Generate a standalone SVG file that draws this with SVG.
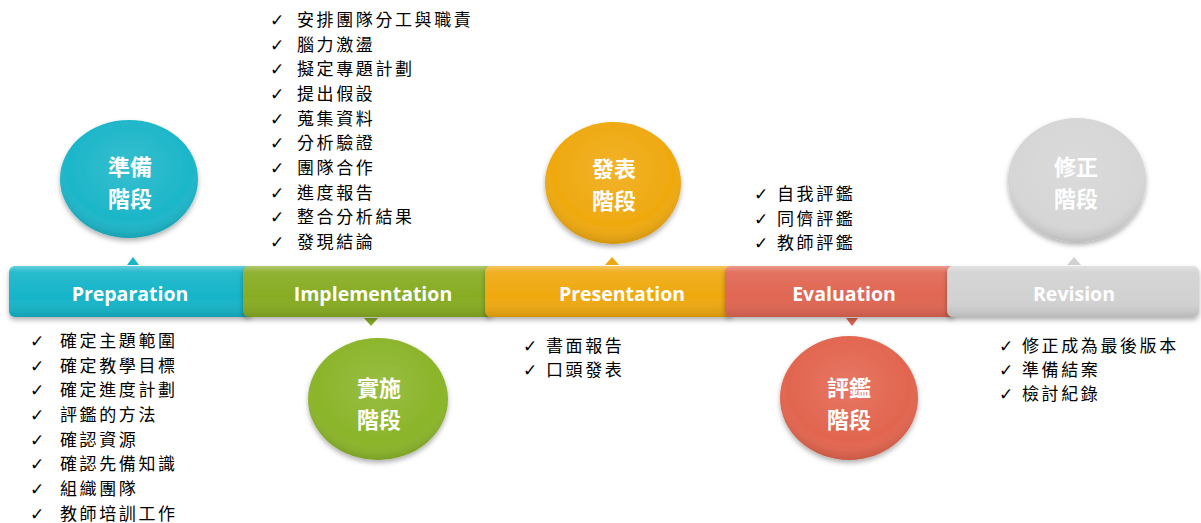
<svg xmlns="http://www.w3.org/2000/svg" width="1201" height="523" viewBox="0 0 1201 523">
<defs>
  <linearGradient id="barShade" x1="0" y1="0" x2="0" y2="1">
    <stop offset="0" stop-color="#fff" stop-opacity="0.35"/>
    <stop offset="0.12" stop-color="#fff" stop-opacity="0.08"/>
    <stop offset="0.6" stop-color="#fff" stop-opacity="0"/>
    <stop offset="1" stop-color="#000" stop-opacity="0.12"/>
  </linearGradient>
  <radialGradient id="ballShade" cx="0.5" cy="0.4" r="0.6">
    <stop offset="0" stop-color="#fff" stop-opacity="0.12"/>
    <stop offset="0.75" stop-color="#fff" stop-opacity="0"/>
    <stop offset="1" stop-color="#000" stop-opacity="0.12"/>
  </radialGradient>
  <filter id="shadow" x="-20%" y="-20%" width="140%" height="150%">
    <feDropShadow dx="0" dy="3" stdDeviation="2.5" flood-color="#000" flood-opacity="0.3"/>
  </filter>
</defs>
<style>
  .bar-label{font-family:"Open Sans","Liberation Sans",sans-serif;font-weight:bold;font-size:19.5px;fill:#fff;text-anchor:middle}
  .ball-label{font-family:"Noto Sans CJK TC","Noto Sans CJK SC",sans-serif;font-weight:bold;font-size:22px;fill:#fff;text-anchor:middle}
  .item{font-family:"Noto Sans CJK TC","Noto Sans CJK SC",sans-serif;font-size:17px;fill:#000;letter-spacing:2.6px}
  .chk{font-family:"DejaVu Sans",sans-serif;font-size:17px;font-weight:bold;fill:#000}
</style>
<rect width="1201" height="523" fill="#fff"/>

<g id="connectors">
  <polygon points="127,265 133,257 139,265" fill="#1ab5c8"/>
  <polygon points="364,318 371,326 378,318" fill="#86ab22"/>
  <polygon points="605,265 612,257 619,265" fill="#efa80f"/>
  <polygon points="846,318 852,326 858,318" fill="#de6350"/>
  <polygon points="1067,265 1074,257 1081,265" fill="#d2d2d2"/>
</g>

<g id="preparation">
  <g filter="url(#shadow)">
    <rect x="9" y="266" width="243" height="51" rx="6" fill="#16b5c9"/>
    <rect x="9" y="266" width="243" height="51" rx="6" fill="url(#barShade)"/>
  </g>
  <text class="bar-label" x="130" y="301">Preparation</text>
  <g filter="url(#shadow)">
    <ellipse cx="129" cy="179" rx="69" ry="59" fill="#1cb6c9"/>
    <ellipse cx="129" cy="179" rx="69" ry="59" fill="url(#ballShade)"/>
  </g>
  <text class="ball-label" x="130" y="175">準備</text>
  <text class="ball-label" x="130" y="207">階段</text>
  <g>
    <text class="chk" x="30" y="347">✓</text><text class="item" x="60" y="347">確定主題範圍</text>
    <text class="chk" x="30" y="372">✓</text><text class="item" x="60" y="372">確定教學目標</text>
    <text class="chk" x="30" y="396">✓</text><text class="item" x="60" y="396">確定進度計劃</text>
    <text class="chk" x="30" y="421">✓</text><text class="item" x="60" y="421">評鑑的方法</text>
    <text class="chk" x="30" y="446">✓</text><text class="item" x="60" y="446">確認資源</text>
    <text class="chk" x="30" y="470">✓</text><text class="item" x="60" y="470">確認先備知識</text>
    <text class="chk" x="30" y="495">✓</text><text class="item" x="60" y="495">組織團隊</text>
    <text class="chk" x="30" y="520">✓</text><text class="item" x="60" y="520">教師培訓工作</text>
  </g>
</g>

<g id="implementation">
  <g filter="url(#shadow)">
    <rect x="243" y="266" width="250" height="51" rx="6" fill="#87ac23"/>
    <rect x="243" y="266" width="250" height="51" rx="6" fill="url(#barShade)"/>
  </g>
  <text class="bar-label" x="373" y="301">Implementation</text>
  <g filter="url(#shadow)">
    <ellipse cx="378" cy="399" rx="70" ry="61" fill="#8bb52a"/>
    <ellipse cx="378" cy="399" rx="70" ry="61" fill="url(#ballShade)"/>
  </g>
  <text class="ball-label" x="379" y="396">實施</text>
  <text class="ball-label" x="379" y="428">階段</text>
  <g>
    <text class="chk" x="270" y="26">✓</text><text class="item" x="297" y="26">安排團隊分工與職責</text>
    <text class="chk" x="270" y="51">✓</text><text class="item" x="297" y="51">腦力激盪</text>
    <text class="chk" x="270" y="75">✓</text><text class="item" x="297" y="75">擬定專題計劃</text>
    <text class="chk" x="270" y="100">✓</text><text class="item" x="297" y="100">提出假設</text>
    <text class="chk" x="270" y="125">✓</text><text class="item" x="297" y="125">蒐集資料</text>
    <text class="chk" x="270" y="149">✓</text><text class="item" x="297" y="149">分析驗證</text>
    <text class="chk" x="270" y="174">✓</text><text class="item" x="297" y="174">團隊合作</text>
    <text class="chk" x="270" y="199">✓</text><text class="item" x="297" y="199">進度報告</text>
    <text class="chk" x="270" y="223">✓</text><text class="item" x="297" y="223">整合分析結果</text>
    <text class="chk" x="270" y="248">✓</text><text class="item" x="297" y="248">發現結論</text>
  </g>
</g>

<g id="presentation">
  <g filter="url(#shadow)">
    <rect x="485" y="266" width="248" height="51" rx="6" fill="#efa90f"/>
    <rect x="485" y="266" width="248" height="51" rx="6" fill="url(#barShade)"/>
  </g>
  <text class="bar-label" x="622" y="301">Presentation</text>
  <g filter="url(#shadow)">
    <ellipse cx="613" cy="183" rx="68" ry="61" fill="#efa90f"/>
    <ellipse cx="613" cy="183" rx="68" ry="61" fill="url(#ballShade)"/>
  </g>
  <text class="ball-label" x="614" y="177">發表</text>
  <text class="ball-label" x="614" y="209">階段</text>
  <g>
    <text class="chk" x="523" y="352">✓</text><text class="item" x="546" y="352">書面報告</text>
    <text class="chk" x="523" y="376">✓</text><text class="item" x="546" y="376">口頭發表</text>
  </g>
</g>

<g id="evaluation">
  <g filter="url(#shadow)">
    <rect x="725" y="266" width="230" height="51" rx="6" fill="#e06653"/>
    <rect x="725" y="266" width="230" height="51" rx="6" fill="url(#barShade)"/>
  </g>
  <text class="bar-label" x="844" y="301">Evaluation</text>
  <g filter="url(#shadow)">
    <ellipse cx="849" cy="398" rx="69" ry="62" fill="#e2654f"/>
    <ellipse cx="849" cy="398" rx="69" ry="62" fill="url(#ballShade)"/>
  </g>
  <text class="ball-label" x="849" y="396">評鑑</text>
  <text class="ball-label" x="849" y="428">階段</text>
  <g>
    <text class="chk" x="754" y="200">✓</text><text class="item" x="777" y="200">自我評鑑</text>
    <text class="chk" x="754" y="225">✓</text><text class="item" x="777" y="225">同儕評鑑</text>
    <text class="chk" x="754" y="249">✓</text><text class="item" x="777" y="249">教師評鑑</text>
  </g>
</g>

<g id="revision">
  <g filter="url(#shadow)">
    <rect x="947" y="266" width="252" height="51" rx="6" fill="#d2d2d2"/>
    <rect x="947" y="266" width="252" height="51" rx="6" fill="url(#barShade)"/>
  </g>
  <text class="bar-label" x="1074" y="301">Revision</text>
  <g filter="url(#shadow)">
    <ellipse cx="1077" cy="180" rx="69" ry="62" fill="#d6d6d6"/>
    <ellipse cx="1077" cy="180" rx="69" ry="62" fill="url(#ballShade)"/>
  </g>
  <text class="ball-label" x="1076" y="175">修正</text>
  <text class="ball-label" x="1076" y="207">階段</text>
  <g>
    <text class="chk" x="999" y="352">✓</text><text class="item" x="1022" y="352">修正成為最後版本</text>
    <text class="chk" x="999" y="376">✓</text><text class="item" x="1022" y="376">準備結案</text>
    <text class="chk" x="999" y="400">✓</text><text class="item" x="1022" y="400">檢討紀錄</text>
  </g>
</g>
</svg>
